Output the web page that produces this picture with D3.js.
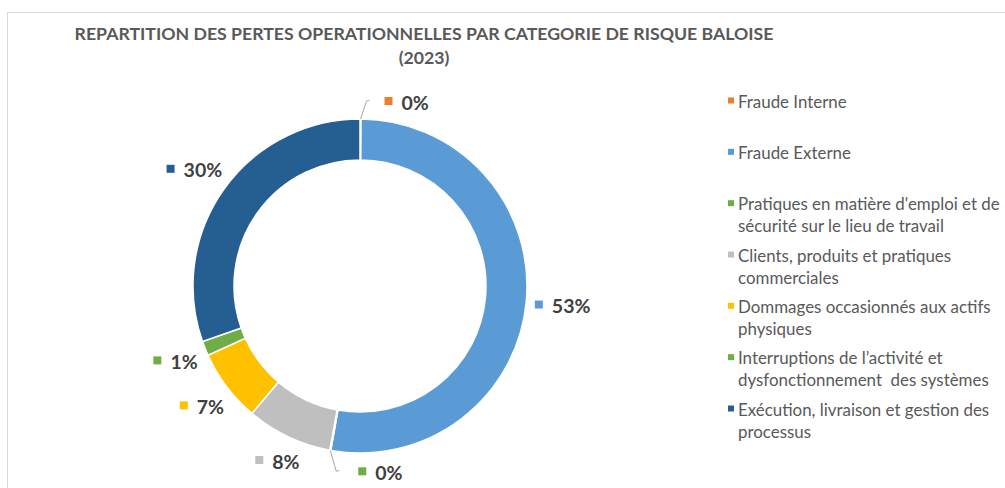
<!DOCTYPE html>
<html>
<head>
<meta charset="utf-8">
<script src="https://cdn.jsdelivr.net/npm/d3@7"></script>
<style>
  body { margin: 0; background: #fff; }
  svg { display: block; font-family: Lato, "Open Sans", sans-serif; }
</style>
</head>
<body>
<div id="app"></div>
<script>
(function (d3) {

  'use strict'

  const categories = [
    'Fraude Interne',
    'Fraude Externe',
    'Pratiques en matière d\'emploi et de\nsécurité sur le lieu de travail',
    'Clients, produits et pratiques\ncommerciales',
    'Dommages occasionnés aux actifs\nphysiques',
    'Interruptions de l’activité et\ndysfonctionnement  des systèmes',
    'Exécution, livraison et gestion des\nprocessus'
  ]
  const values = [0.1, 52.7, 0.1, 8.3, 7.0, 1.4, 30.4]
  const colors = ['#ed7d31', '#5b9bd5', '#70ad47', '#bfbfbf', '#ffc000', '#70ad47', '#255e91']
  const titleLines = ['REPARTITION DES PERTES OPERATIONNELLES PAR CATEGORIE DE RISQUE BALOISE', '(2023)']

  const w = 1005
  const h = 488
  const cx = 360
  const cy = 286
  const outerR = 167
  const innerR = 126

  const svg = d3.select('#app')
    .append('svg')
    .attr('width', w)
    .attr('height', h)

  // chart area frame (only top and left edges visible)
  svg.append('rect')
    .attr('x', 7.5)
    .attr('y', 12.5)
    .attr('width', w + 10)
    .attr('height', h + 10)
    .attr('fill', 'none')
    .attr('stroke', '#d9d9d9')

  svg.append('g')
    .selectAll('text')
    .data(titleLines)
    .enter()
    .append('text')
    .attr('x', 424)
    .attr('y', (d, i) => 40 + i * 24)
    .attr('text-anchor', 'middle')
    .attr('font-size', 17.7)
    .attr('font-weight', 'bold')
    .attr('fill', '#595959')
    .text(d => d)

  const data = values.map((v, i) => ({ name: categories[i], value: v, color: colors[i] }))

  const pie = d3.pie()
    .sort(null)
    .value(d => d.value)

  const arc = d3.arc()
    .innerRadius(innerR)
    .outerRadius(outerR)

  const arcs = pie(data)

  const g = svg.append('g')
    .attr('transform', 'translate(' + cx + ',' + cy + ')')

  g.selectAll('path')
    .data(arcs)
    .enter()
    .append('path')
    .attr('d', arc)
    .attr('fill', d => d.data.color)
    .attr('stroke', '#fff')
    .attr('stroke-width', 1.5)

  const fmt = d3.format('.0%')
  const labelSize = 19.5

  const labels = g.selectAll('g.label')
    .data(arcs)
    .enter()
    .append('g')
    .attr('class', 'label')

  labels.append('text')
    .attr('font-size', labelSize)
    .attr('font-weight', 'bold')
    .attr('fill', '#404040')
    .attr('dominant-baseline', 'central')
    .text(d => fmt(d.data.value / 100))

  labels.each(function (d) {
    const sel = d3.select(this)
    const t = sel.select('text')
    const tw = t.node().getComputedTextLength()
    const boxW = 8 + 9 + tw
    const a = (d.startAngle + d.endAngle) / 2
    const sa = Math.sin(a)
    const ca = Math.cos(a)
    let left, midY
    if (d.data.value < 1) {
      // tiny slice: leader line from ring edge
      const px = outerR * sa
      const py = -outerR * ca
      const ex = px + 6
      const ey = py + (ca > 0 ? -18 : 21)
      sel.append('path')
        .attr('d', 'M' + px + ',' + py + 'L' + ex + ',' + ey + 'l3,-1')
        .attr('fill', 'none')
        .attr('stroke', '#a6a6a6')
        .attr('stroke-width', 1)
      left = ex + (ca > 0 ? 18 : 22)
      midY = ey
    } else {
      const r = outerR + 8 + (boxW / 2) * Math.abs(sa) + 9 * Math.abs(ca)
      left = r * sa - boxW / 2
      midY = -r * ca
    }
    sel.insert('rect', 'text')
      .attr('x', left)
      .attr('y', midY - 4)
      .attr('width', 8)
      .attr('height', 8)
      .attr('fill', d.data.color)
    t.attr('x', left + 17).attr('y', midY + 1)
  })

  // legend
  const ly = d3.scalePoint()
    .domain(categories)
    .range([101, 409])

  const legend = svg.append('g')
    .selectAll('g')
    .data(data)
    .enter()
    .append('g')
    .attr('transform', d => 'translate(728,' + ly(d.name) + ')')

  legend.append('rect')
    .attr('x', 0)
    .attr('y', -3.5)
    .attr('width', 6)
    .attr('height', 6)
    .attr('fill', d => d.color)

  legend.append('text')
    .attr('font-size', 16.9)
    .attr('fill', '#595959')
    .style('white-space', 'pre')
    .selectAll('tspan')
    .data(d => d.name.split('\n'))
    .enter()
    .append('tspan')
    .attr('x', 10)
    .attr('y', (d, i) => i * 22)
    .attr('dominant-baseline', 'central')
    .text(d => d)

}(d3))
</script>
</body>
</html>
